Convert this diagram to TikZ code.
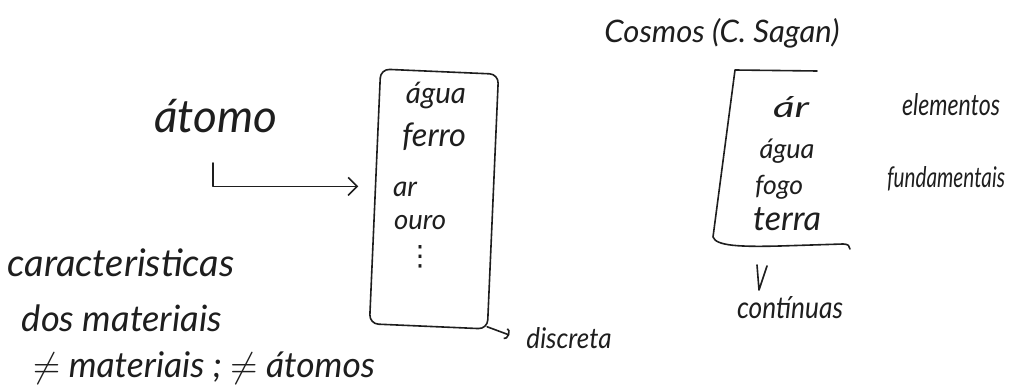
\documentclass[tikz,border=0pt]{standalone}
\usepackage{fontspec}
\setmainfont{Lato}
\newfontfamily\dejavu{DejaVu Sans}
\usepackage{graphicx}
\usetikzlibrary{arrows.meta}
\definecolor{ink}{HTML}{1E1E1E}
\newcommand\hw[2]{\resizebox{#1pt}{!}{#2}}
\newcommand\hh[2]{\resizebox{!}{#1pt}{#2}}
\newcommand\hwh[3]{\resizebox{#1pt}{#2pt}{#3}}
\tikzset{
  hand/.style={inner sep=0pt, text=ink, font=\itshape},
  inkline/.style={draw=ink, line width=1.6pt, line cap=round, line join=round},
}
\begin{document}
\begin{tikzpicture}[x=1pt,y=-1pt]
\useasboundingbox[fill=white] (0,0) rectangle (1012,390);

% left part
\node[hand] (atomo) at (216,116) {\hw{123}{átomo}};
\node[inkline, rounded corners=9pt, minimum width=118pt, minimum height=255pt, rotate=-2.5] (box) at (434,199) {};
\node[hand] (agua1) at (436,96) {\hw{60}{água}};
\node[hand] (ferro) at (434,137) {\hw{64}{ferro}};
\node[hand] (ar1) at (405,189) {\hw{24}{ar}};
\node[hand] (ouro) at (420,223) {\hw{52}{ouro}};
\node[hand] (dots) at (420,257) {\hh{20}{\dejavu ⋮}};
\node[hand] (discreta) at (569,338) {\hwh{85}{21}{discreta}};

\node[hand] (carac) at (121,263) {\hw{227}{caracteristicas}};
\node[hand] (dos) at (122,318) {\hw{200}{dos materiais}};
\node[hand] (diff) at (204,368) {\hw{342}{$\neq$ materiais ; $\neq$ átomos}};

\draw[inkline, -{Straight Barb[length=9pt,width=18pt,line width=1.6pt]}]
  ([shift={(-3,30)}]atomo.south) |- ([shift={(-16,-10)}]box.west);
\draw[inkline, -{Arc Barb[length=4pt,width=12pt,line width=1.6pt]}]
  ([shift={(-1,-3)}]box.south east) -- ([shift={(-17,-3)}]discreta.west);

% right part
\node[hand] (cosmos) at (722,33) {\hw{235}{Cosmos (C. Sagan)}};
\node[hand] (ar2) at (791,107) {\hwh{36}{21}{ár}};
\node[hand] (agua2) at (787,151) {\hw{55}{água}};
\node[hand] (fogo) at (779,187) {\hw{48}{fogo}};
\node[hand] (terra) at (787,219) {\hw{68}{terra}};
\node[hand] (elem) at (951,105) {\hwh{98}{22}{elementos}};
\node[hand] (fund) at (946,179) {\hwh{118}{21}{fundamentais}};
\node[hand] (cont) at (790,308) {\hwh{106}{22}{contínuas}};

\draw[inkline] (817,71) -- (735,70) -- (713,237)
  .. controls (716,246) and (740,247) .. (780,246) -- (843,244)
  .. controls (848,244) and (850,246) .. (850,249);
\coordinate (vtop) at (757,265);
\draw[inkline] (vtop) -- (759,290) -- (767,266);
\end{tikzpicture}
\end{document}
